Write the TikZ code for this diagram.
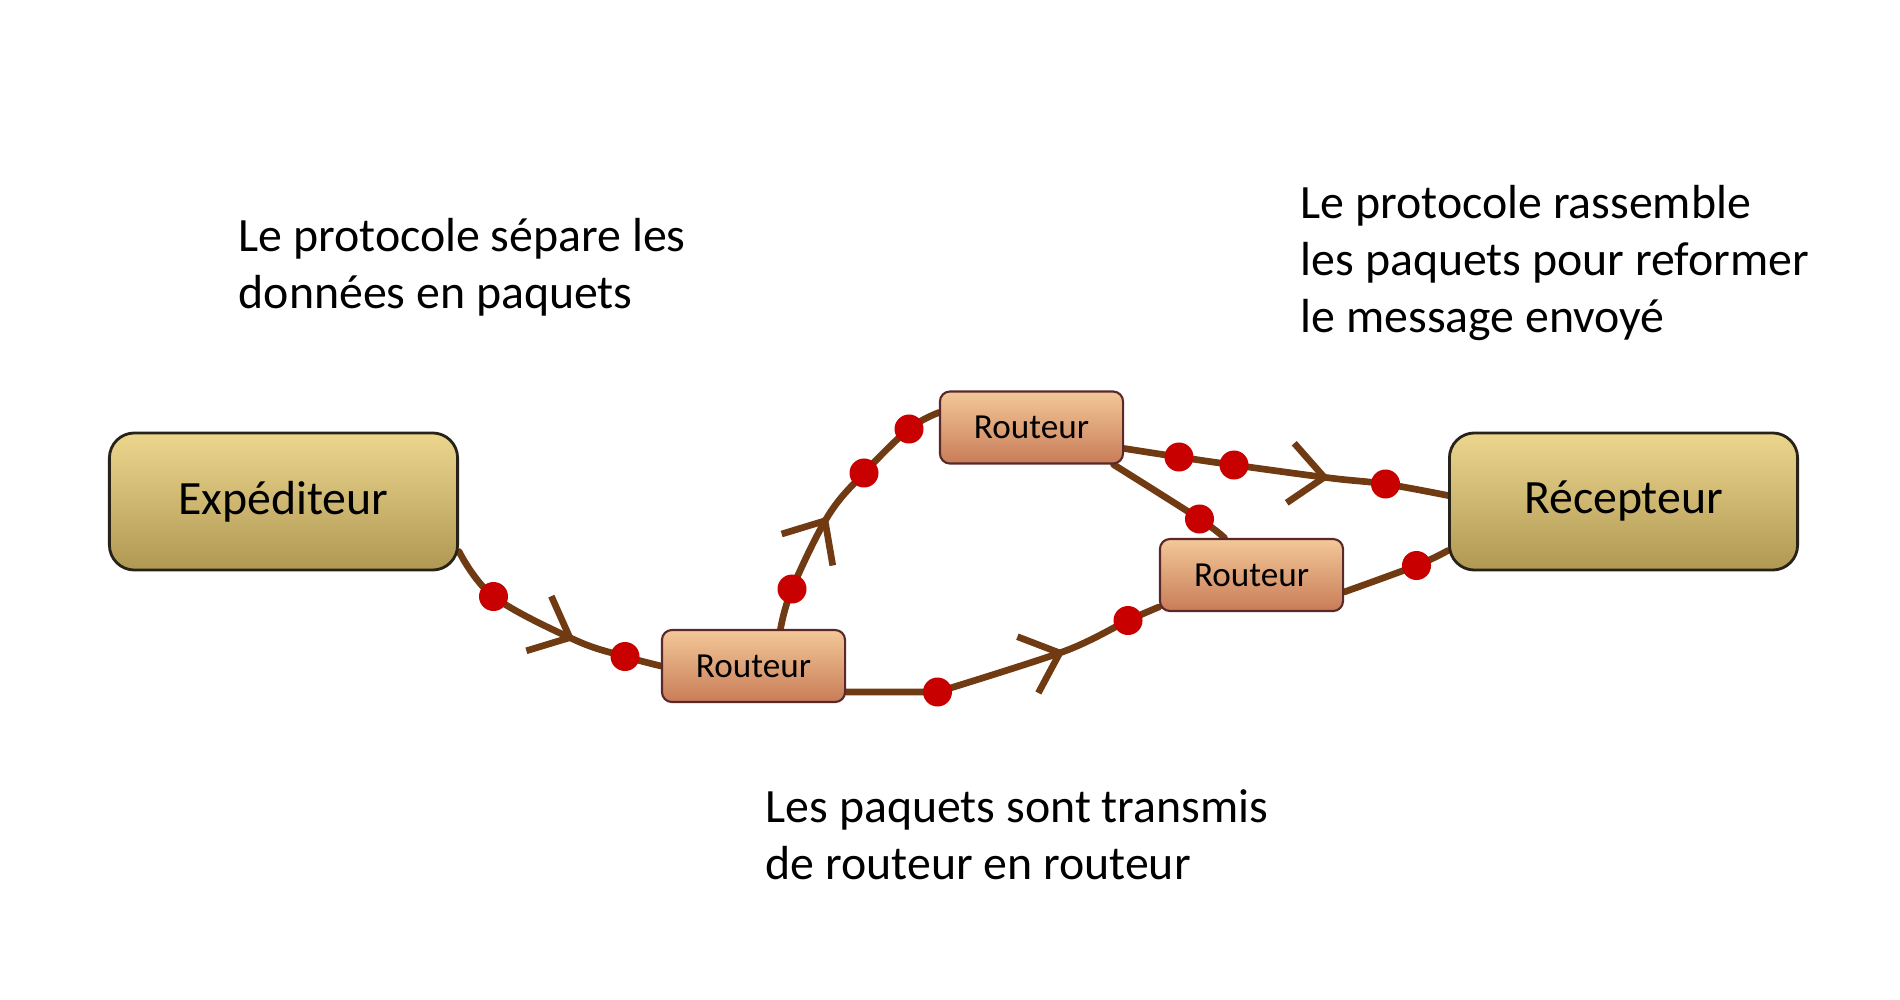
\documentclass[tikz,border=0pt]{standalone}
\usepackage{fontspec}
\setmainfont{Carlito}
\usetikzlibrary{arrows.meta,decorations.markings,calc,backgrounds}
\definecolor{linkc}{RGB}{112,58,18}
\definecolor{dotc}{RGB}{200,0,0}
\definecolor{bigtop}{RGB}{236,214,142}
\definecolor{bigbot}{RGB}{176,152,82}
\definecolor{bigline}{RGB}{40,35,25}
\definecolor{rtop}{RGB}{243,200,152}
\definecolor{rbot}{RGB}{200,124,88}
\definecolor{rline}{RGB}{90,40,40}
\begin{document}
\begin{tikzpicture}[x=0.01cm,y=-0.01cm,
  bigbox/.style={draw=bigline, line width=0.8pt, rounded corners=0.25cm,
    top color=bigtop, bottom color=bigbot, minimum width=3.48cm,
    minimum height=1.37cm, inner sep=0, font=\fontsize{13.6}{16}\selectfont},
  router/.style={draw=rline, line width=0.6pt, rounded corners=0.1cm,
    top color=rtop, bottom color=rbot, minimum width=1.83cm,
    minimum height=0.72cm, inner sep=0, font=\fontsize{10}{12}\selectfont},
  pkt/.style={circle, fill=dotc, inner sep=0, minimum size=0.29cm},
  link/.style={draw=linkc, line width=1.9pt, line cap=round, line join=round},
  midarrow/.style={postaction={decorate}, decoration={markings,
    mark=at position #1 with {\arrow[linkc, line width=1.9pt, line cap=round]{Straight Barb[length=0.34cm,width=0.6cm]}}}},
  caption/.style={anchor=base west, align=left, inner sep=0,
    font=\fontsize{13.6}{16.2}\selectfont}
]
\useasboundingbox (0,0) rectangle (1900,1000);

% boxes
\node[bigbox] (exp) at (283.5,501.5) {Expéditeur};
\node[bigbox] (rec) at (1623.5,501.5) {Récepteur};
\node[router] (r1) at (753.5,666) {Routeur};
\node[router] (r2) at (1031.5,427.5) {Routeur};
\node[router] (r3) at (1251.5,575) {Routeur};

% packets
\node[pkt] (pa1) at (493.5,596.5) {};
\node[pkt] (pa2) at (625,656.5) {};
\node[pkt] (pb1) at (792,589) {};
\node[pkt] (pb2) at (864,473) {};
\node[pkt] (pb3) at (909,429) {};
\node[pkt] (pc1) at (937.5,692) {};
\node[pkt] (pc2) at (1128,620.5) {};
\node[pkt] (pd1) at (1179,457) {};
\node[pkt] (pd2) at (1234,465) {};
\node[pkt] (pd3) at (1385.5,484) {};
\node[pkt] (pe1) at (1199.5,519) {};
\node[pkt] (pf1) at (1416.5,565.5) {};

% path ends
\coordinate (sA) at ($(exp.east)+(0,50)$);
\coordinate (tA) at (575,640);
\coordinate (sB) at ($(r1.north)+(27,0)$);
\coordinate (tB) at (828,516);
\coordinate (eB) at ($(r2.west)+(0,-15)$);
\coordinate (sC) at ($(r1.east)+(0,26)$);
\coordinate (tC) at (1065,651);
\coordinate (eC) at ($(r3.west)+(0,32)$);
\coordinate (sD) at ($(r2.east)+(0,21)$);
\coordinate (tD) at (1330,478);
\coordinate (eD) at ($(rec.west)+(0,-6)$);
\coordinate (sE) at ($(r2.south)+(82,0)$);
\coordinate (eE) at ($(r3.north)+(-27,0)$);
\coordinate (sF) at ($(r3.east)+(0,17)$);
\coordinate (eF) at ($(rec.west)+(0,49)$);

\begin{pgfonlayer}{background}
\fill[white] (0,0) rectangle (1900,1000);
\draw[link, midarrow=0.622] plot[smooth, tension=0.6] coordinates {(sA) (pa1.center) (tA) (pa2.center) (r1.west)};
\draw[link, midarrow=0.443] plot[smooth, tension=0.6] coordinates {(sB) (pb1.center) (tB) (pb2.center) (pb3.center) (eB)};
\draw[link, midarrow=0.683] (sC) -- plot[smooth, tension=0.5] coordinates {(pc1.center) (tC) (pc2.center) (eC)};
\draw[link, midarrow=0.633] plot[smooth, tension=0.6] coordinates {(sD) (pd1.center) (pd2.center) (tD) (pd3.center) (eD)};
\draw[link] plot[smooth, tension=0.6] coordinates {(sE) (pe1.center) (eE)};
\draw[link] plot[smooth, tension=0.6] coordinates {(sF) (pf1.center) (eF)};
\end{pgfonlayer}

% captions (anchor = baseline of last line)
\node[caption] (t1) at (238,308) {Le protocole sépare les\\données en paquets};
\node[caption] (t2) at (1300,332) {Le protocole rassemble\\les paquets pour reformer\\le message envoyé};
\node[caption] (t3) at (765,879) {Les paquets sont transmis\\de routeur en routeur};
\end{tikzpicture}
\end{document}
